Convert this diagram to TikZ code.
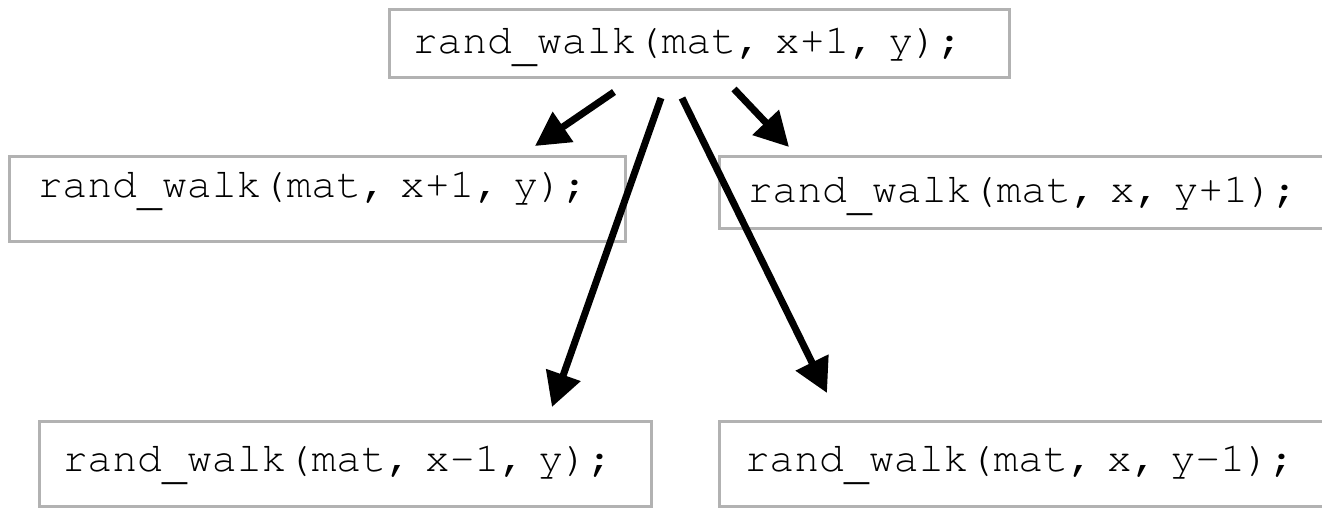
\documentclass[tikz,border=0pt]{standalone}
\usepackage[T1]{fontenc}
\usepackage{courier}
\usetikzlibrary{arrows.meta}

% underscore set below the baseline, as in Courier
\newcommand\lowus{\raisebox{-0.2em}{\_}}

\tikzset{
  callbox/.style={draw=black!30, line width=3pt, rectangle, anchor=north west,
    inner ysep=0pt, align=left,
    font=\ttfamily\fontsize{41.5}{48}\selectfont},
  callarrow/.style={line width=7pt, -{Triangle[length=34pt,width=35pt]}}
}

\begin{document}
\begin{tikzpicture}[x=1pt,y=-1pt]
  \useasboundingbox (0,0) rectangle (1322,507);
  \clip (0,0) rectangle (1322,507);

  % current call
  \node[callbox, inner xsep=23pt, text width=574pt, text height=44pt, text depth=24pt]
    (top) at (388,8) {\mbox{rand\lowus walk(mat, x+1, y);}};

  % the four recursive calls
  \node[callbox, inner xsep=28pt, text width=560pt, text height=41pt, text depth=44pt]
    (ml) at (8,155) {\mbox{rand\lowus walk(mat, x+1, y);}};
  \node[callbox, inner xsep=28pt, text width=568pt, text height=46pt, text depth=26pt]
    (mr) at (718,155) {\mbox{rand\lowus walk(mat, x, y+1);}};
  \node[callbox, inner xsep=23pt, text width=566pt, text height=50pt, text depth=35pt]
    (bl) at (38,420) {\mbox{rand\lowus walk(mat, x-1, y);}};
  \node[callbox, inner xsep=25pt, text width=568pt, text height=50pt, text depth=35pt]
    (br) at (718,420) {\mbox{rand\lowus walk(mat, x, y-1);}};

  % arrow ends
  \coordinate (s1) at (614,92);  \coordinate (e1) at (535,146);
  \coordinate (s2) at (734,89);  \coordinate (e2) at (789,147);
  \coordinate (s3) at (661,98);  \coordinate (e3) at (552,407);
  \coordinate (s4) at (682,98);  \coordinate (e4) at (827,393);

  \draw[callarrow] (s1) -- (e1);
  \draw[callarrow] (s2) -- (e2);
  \draw[callarrow] (s3) -- (e3);
  \draw[callarrow] (s4) -- (e4);
\end{tikzpicture}
\end{document}
